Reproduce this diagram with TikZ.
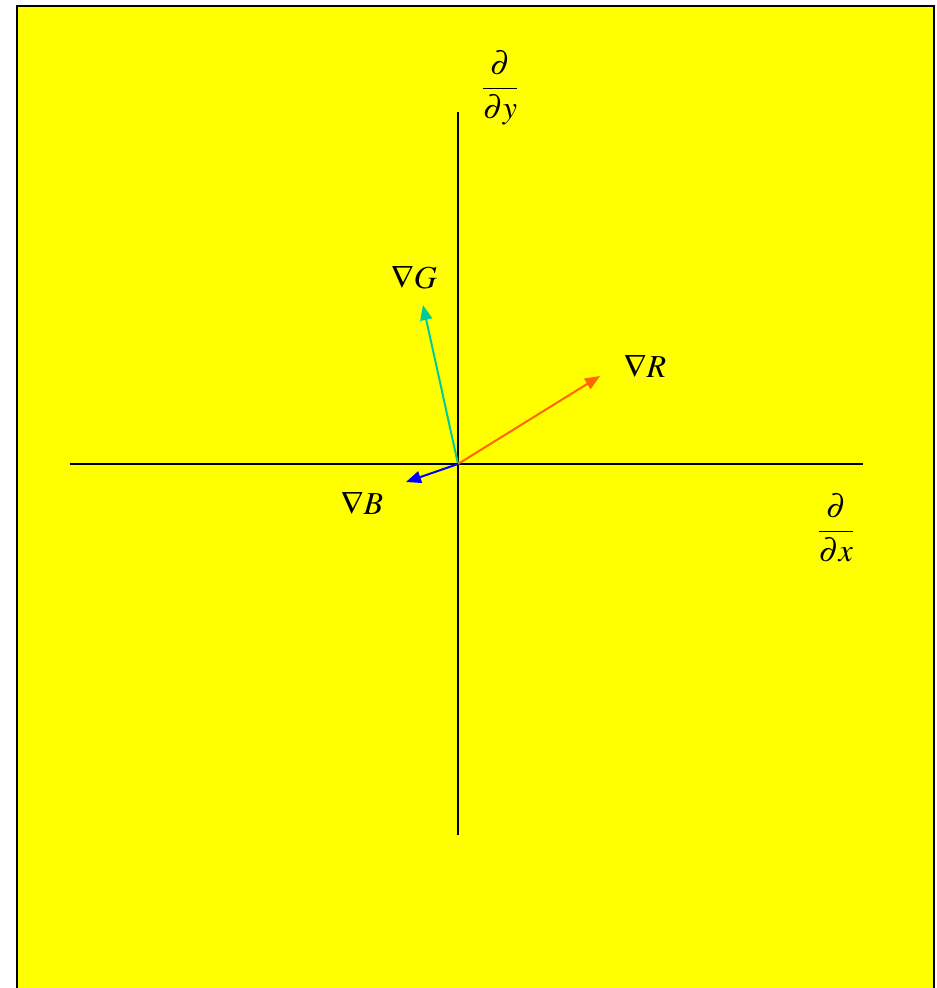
\documentclass[tikz,border=0pt]{standalone}
\usepackage{mathptmx}
\usetikzlibrary{arrows.meta}
\definecolor{bgyellow}{RGB}{255,255,0}
\definecolor{gcol}{RGB}{0,204,153}
\definecolor{rcol}{RGB}{255,102,0}
\definecolor{bcol}{RGB}{0,0,255}
\tikzset{
  axis/.style={draw=black, line width=2pt},
  vec/.style={line width=2pt, -{Triangle[length=15pt,width=12pt]}},
  lbl/.style={inner sep=0pt, font=\fontsize{32}{38}\selectfont},
}
\begin{document}
\begin{tikzpicture}[x=1pt,y=-1pt]
\useasboundingbox (0,0) rectangle (937,988);
\fill[bgyellow] (17,6) rectangle (934,992);
\draw[black, line width=2pt] (17,992) -- (17,6) -- (934,6) -- (934,992);
% axes
\coordinate (xl) at (70,464);
\coordinate (xr) at (863,464);
\coordinate (yt) at (458,112);
\coordinate (yb) at (458,835);
\coordinate (O) at (458,464);
\draw[axis] (xl) -- (xr);
\draw[axis] (yt) -- (yb);
% vector tips
\coordinate (tG) at (423,305);
\coordinate (tR) at (600,376);
\coordinate (tB) at (406,482);
\draw[vec, gcol] (O) -- (tG);
\draw[vec, rcol] (O) -- (tR);
\draw[vec, bcol] (O) -- (tB);
% labels
\node[lbl] (lG) at (414,277) {$\nabla G$};
\node[lbl] (lR) at (645,366) {$\nabla R$};
\node[lbl] (lB) at (362,503) {$\nabla B$};
\node[lbl] (ly) at (500,88) {$\displaystyle\frac{\partial}{\partial y}$};
\node[lbl] (lx) at (836,528) {$\displaystyle\frac{\partial}{\partial x}$};
\end{tikzpicture}
\end{document}
